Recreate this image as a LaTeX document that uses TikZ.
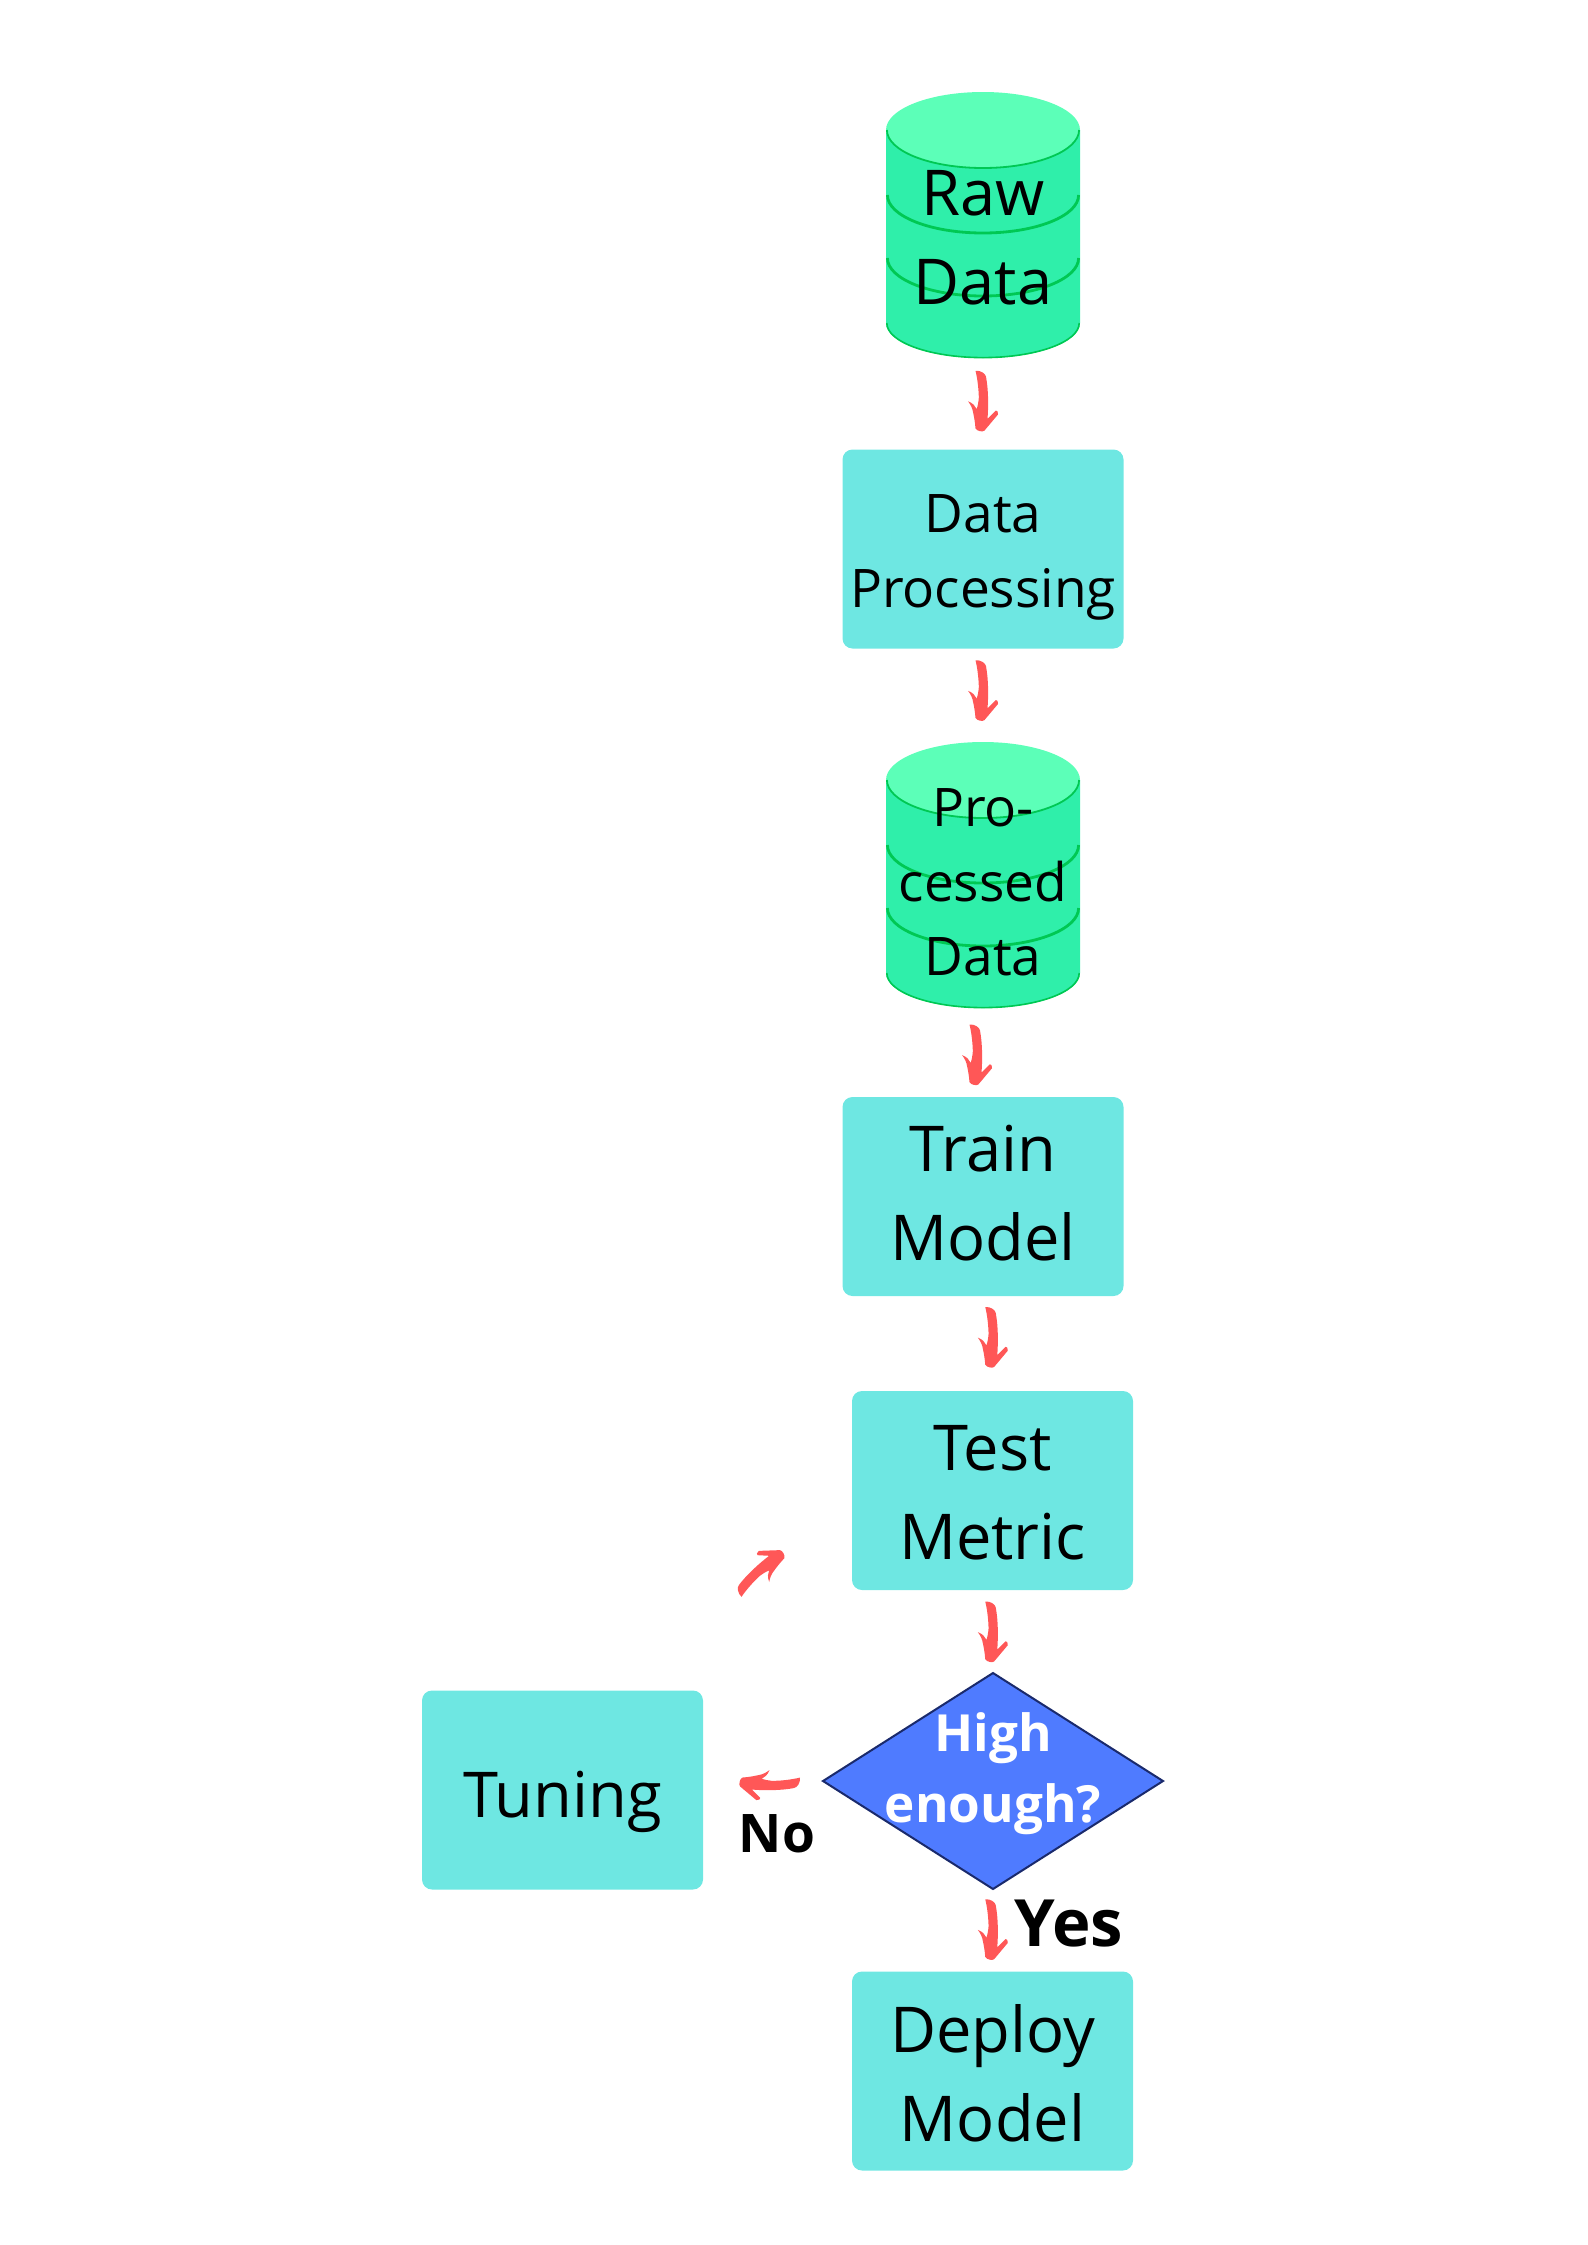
\documentclass[tikz,border=0pt]{standalone}
\usepackage{fontspec}
\setmainfont{Open Sans}
\usetikzlibrary{shapes.geometric}
\definecolor{boxteal}{HTML}{6EE7E2}
\definecolor{drumtop}{HTML}{5CFFB8}
\definecolor{drumbody}{HTML}{2FEFAA}
\definecolor{drumline}{HTML}{00C853}
\definecolor{arrowred}{HTML}{FF5757}
\definecolor{decidefill}{HTML}{4F7BFF}
\definecolor{decideline}{HTML}{1A2A6C}
\tikzset{
  bigtext/.style={font=\fontsize{31.6}{44.3}\selectfont,align=center},
  smalltext/.style={font=\fontsize{26.6}{37.2}\selectfont,align=center},
  stepbox/.style={fill=boxteal,rounded corners=5pt,minimum width=140.5pt,minimum height=99.5pt},
  drumbox/.style={minimum width=97pt,minimum height=133pt},
  decidebox/.style={diamond,draw=decideline,fill=decidefill,line width=1pt,aspect=1.574,minimum width=170pt,minimum height=108pt},
  decidetext/.style={font=\fontsize{25.6}{35.5}\selectfont\bfseries,align=center,text=white},
  answertext/.style={font=\fontsize{#1}{#1}\selectfont\bfseries},
  sketcharrow/.pic={
    \fill[arrowred] (-7.5,-31) .. controls (-2,-31.5) and (2.5,-28) .. (3,-25)
      .. controls (5.5,-12) and (5.5,5) .. (4.5,17) -- (12.7,8.8)
      .. controls (14.5,9) .. (15,12.7) -- (1.5,28.8)
      .. controls (0,30.5) and (-6,29.5) .. (-7.5,26.7)
      .. controls (-8,20) and (-9,15) .. (-9.7,11.7)
      .. controls (-10.5,6) and (-12.5,3) .. (-15,-0.5)
      .. controls (-10,1.5) and (-8,4) .. (-6.3,7.3)
      .. controls (-4,0) and (-4,-6) .. (-4.3,-6.7)
      .. controls (-4.5,-15) and (-6,-25) .. cycle;
  },
  datadrum/.pic={
    \path[fill=drumbody] (-97,-95) -- (-97,98)
      arc[start angle=180,end angle=0,x radius=97,y radius=35] -- (97,-95) -- cycle;
    \path[draw=drumline,line width=0.8pt] (-96.2,98)
      arc[start angle=180,end angle=0,x radius=96.2,y radius=34.6];
    \path[draw=drumline,line width=1.4pt] (-95.6,-30)
      arc[start angle=180,end angle=0,x radius=95.6,y radius=38];
    \path[draw=drumline,line width=1.4pt] (-95.6,33)
      arc[start angle=180,end angle=0,x radius=95.6,y radius=38];
    \path[fill=drumtop] (0,-95) ellipse[x radius=97,y radius=38];
    \path[draw=drumline,line width=0.9pt] (-96.1,-95)
      arc[start angle=180,end angle=0,x radius=96.1,y radius=38];
  }
}
\begin{document}
\begin{tikzpicture}[y=-0.5pt, x=0.5pt, inner sep=0pt, outer sep=0pt]
  \useasboundingbox (0,0) rectangle (1587,2245);
  \path (983,225) pic {datadrum};
  \path (983,875) pic {datadrum};
  \node[drumbox] (rawdata) at (983,225) {};
  \node[stepbox] (dataproc) at (983,549) {};
  \node[drumbox] (procdata) at (983,875) {};
  \node[stepbox] (trainmodel) at (983,1196.5) {};
  \node[stepbox] (testmetric) at (992.5,1490.5) {};
  \node[decidebox] (decide) at (993,1781) {};
  \node[stepbox] (tuning) at (562.5,1790) {};
  \node[stepbox] (deploymodel) at (992.5,2071) {};
  \node[bigtext] (rawlabel) at (983,237.5) {Raw\\Data};
  \node[smalltext] (proclabel) at (983,557.5) {Data\\Processing};
  \node[smalltext] (cessedlabel) at (983,882.5) {Pro-\\cessed\\Data};
  \node[bigtext] (trainlabel) at (983,1193) {Train\\Model};
  \node[bigtext] (testlabel) at (992.5,1492.5) {Test\\Metric};
  \node[decidetext] (decidelabel) at (993,1774) {High\\enough?};
  \node[bigtext] (tuninglabel) at (562.5,1802) {Tuning};
  \node[bigtext] (deploylabel) at (992.5,2073) {Deploy\\Model};
  \node[answertext=26.6] (nolabel) at (777,1834) {No};
  \node[answertext=32.6] (yeslabel) at (1069,1924) {Yes};
  \path (rawdata.south) -- (dataproc.north) pic[midway,shift={(0,-2)}] {sketcharrow};
  \path (dataproc.south) -- (procdata.north) pic[midway,shift={(0,-4)}] {sketcharrow};
  \path (procdata.south) -- (trainmodel.north) pic[midway,shift={(-6,3)}] {sketcharrow};
  \path (trainmodel.south) -- (testmetric.north) pic[midway,shift={(5,-5.5)}] {sketcharrow};
  \path (testmetric.south) -- (decide.north) pic[midway,shift={(0,1)}] {sketcharrow};
  \path (decide.south) -- (deploymodel.north) pic[midway] {sketcharrow};
  \path (decide.west) -- (tuning.east) pic[pos=0.45,rotate=-90] {sketcharrow};
  \path (tuning.north east) -- (testmetric.west) pic[midway,shift={(-18,-20)},rotate=132] {sketcharrow};
\end{tikzpicture}
\end{document}
